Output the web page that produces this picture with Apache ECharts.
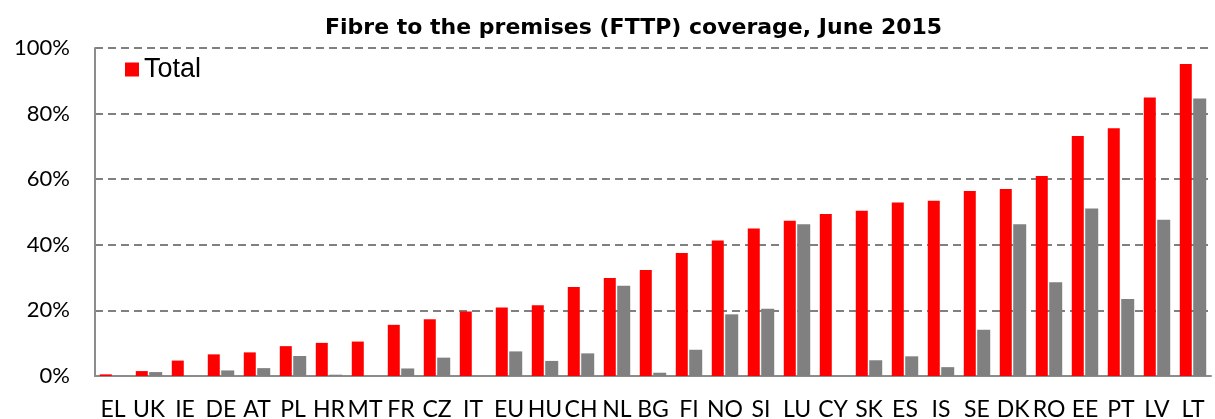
<!DOCTYPE html>
<html>
<head>
    <meta charset="utf-8">
    <title>FTTP coverage</title>
    <script src="https://cdn.jsdelivr.net/npm/echarts@6/dist/echarts.min.js"></script>
    <style>
        html, body { margin: 0; padding: 0; background: #fff; }
        #chart { width: 1215px; height: 419px; }
    </style>
</head>
<body>
<div id="chart"></div>
<script>
// 国家代码
var countries = ['EL', 'UK', 'IE', 'DE', 'AT', 'PL', 'HR', 'MT', 'FR', 'CZ', 'IT', 'EU', 'HU', 'CH', 'NL', 'BG',
    'FI', 'NO', 'SI', 'LU', 'CY', 'SK', 'ES', 'IS', 'SE', 'DK', 'RO', 'EE', 'PT', 'LV', 'LT'];

// Total coverage (%)
var totalValues = [0.5, 1.5, 4.7, 6.6, 7.2, 9.1, 10.1, 10.5, 15.6, 17.3, 19.7, 20.9, 21.6, 27.1, 29.9, 32.3,
    37.5, 41.3, 45.0, 47.3, 49.4, 50.4, 52.9, 53.4, 56.4, 57.0, 61.0, 73.2, 75.5, 84.9, 95.1];

// Rural coverage (%) - grey bars
var ruralValues = [0, 1.2, 0, 1.7, 2.4, 6.1, 0.4, 0, 2.3, 5.6, 0, 7.5, 4.6, 6.9, 27.5, 1.0,
    8.0, 18.8, 20.5, 46.3, 0, 4.8, 6.0, 2.7, 14.1, 46.3, 28.6, 51.1, 23.5, 47.6, 84.6];

var yTicks = [0, 20, 40, 60, 80, 100];

var chart = echarts.init(document.getElementById('chart'));
var option = {
    animation: false,
    backgroundColor: '#ffffff',
    title: {
        text: 'Fibre to the premises (FTTP) coverage, June 2015',
        left: 320,
        top: 12,
        textStyle: {
            fontFamily: 'DejaVu Sans',
            fontWeight: 'bold',
            fontSize: 22,
            color: '#000'
        }
    },
    legend: {
        data: ['Total'],
        left: 120,
        top: 51,
        icon: 'rect',
        itemWidth: 14,
        itemHeight: 14,
        itemGap: 10,
        textStyle: {
            fontFamily: 'Liberation Sans',
            fontSize: 27,
            color: '#000'
        }
    },
    grid: {
        left: 95,
        right: 4,
        top: 48,
        bottom: 43,
        outerBoundsMode: 'none'
    },
    xAxis: {
        type: 'category',
        data: countries,
        axisLine: { lineStyle: { color: '#8c8c8c', width: 2 } },
        axisTick: { show: false },
        axisLabel: {
            interval: 0,   // 显示所有标签
            margin: 22,
            fontFamily: 'Lato',
            fontSize: 23,
            color: '#000'
        }
    },
    yAxis: {
        type: 'value',
        min: yTicks[0],
        max: yTicks[yTicks.length - 1],
        interval: 20,
        axisLine: { show: true, lineStyle: { color: '#8c8c8c', width: 2 } },
        axisTick: { show: false },
        axisLabel: {
            margin: 25,
            formatter: '{value}%',
            fontFamily: 'Lato',
            fontSize: 22,
            color: '#000'
        },
        splitLine: {
            lineStyle: { color: '#808080', width: 2, type: [8, 5] }
        }
    },
    series: [
        {
            name: 'Total',
            type: 'bar',
            data: totalValues,
            barWidth: 12,
            barGap: '12%',
            itemStyle: { color: '#ff0000' }
        },
        {
            name: 'Rural',
            type: 'bar',
            data: ruralValues,
            barWidth: 13,
            itemStyle: { color: '#808080' }
        }
    ]
};
chart.setOption(option);
</script>
</body>
</html>
